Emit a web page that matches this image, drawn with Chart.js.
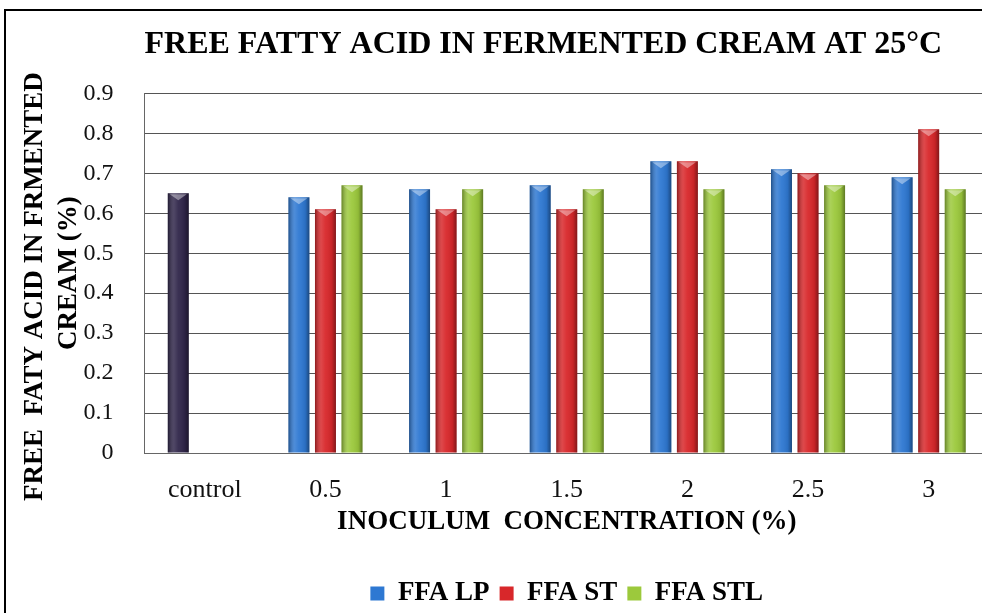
<!DOCTYPE html>
<html>
<head>
<meta charset="utf-8">
<title>Free fatty acid in fermented cream</title>
<script src="https://cdn.jsdelivr.net/npm/chart.js@4.4.1/dist/chart.umd.min.js"></script>
<style>
  html, body { margin: 0; padding: 0; background: #fff; overflow: hidden; width: 982px; height: 613px; }
  #frame {
    position: absolute; left: 4px; top: 9px;
    width: 1090px; height: 606px;
    border-left: 2px solid #000; border-top: 2px solid #000;
  }
</style>
</head>
<body>
<div id="frame"><canvas id="ffaChart"></canvas></div>
<script>
const categories = ['control', '0.5', '1', '1.5', '2', '2.5', '3'];

// control value sits in the LP slot
const ffaLp = [0.65, 0.64, 0.66, 0.67, 0.73, 0.71, 0.69];
const ffaSt = [null, 0.61, 0.61, 0.61, 0.73, 0.70, 0.81];
const ffaStl = [null, 0.67, 0.66, 0.66, 0.66, 0.67, 0.66];

const yTickLabels = ['0', '0.1', '0.2', '0.3', '0.4', '0.5', '0.6', '0.7', '0.8', '0.9'];

const seriesNames = ['FFA LP', 'FFA ST', 'FFA STL'];

let ffa = {

  colors: {
    control: '#30264a',
    lp: '#2e78d2',
    st: '#d8272a',
    stl: '#9cc93c'
  },

  // gives the bars a rounded, shaded look like the office chart
  shadePlugin: {
    id: 'shade',
    afterDatasetsDraw: function (chart) {
      const ctx = chart.ctx;
      chart.data.datasets.forEach(function (ds, i) {
        chart.getDatasetMeta(i).data.forEach(function (bar) {
          const p = bar.getProps(['x', 'y', 'base', 'width'], true);
          if (!isFinite(p.y)) return;
          const left = p.x - p.width / 2;
          const g = ctx.createLinearGradient(left, 0, left + p.width, 0);
          g.addColorStop(0, 'rgba(0,0,0,0.35)');
          g.addColorStop(0.3, 'rgba(255,255,255,0.15)');
          g.addColorStop(0.5, 'rgba(255,255,255,0.05)');
          g.addColorStop(0.8, 'rgba(0,0,0,0.08)');
          g.addColorStop(1, 'rgba(0,0,0,0.4)');
          ctx.save();
          ctx.fillStyle = g;
          ctx.fillRect(left, p.y, p.width, p.base - p.y);
          ctx.fillStyle = 'rgba(255,255,255,0.4)';
          ctx.beginPath();
          ctx.moveTo(left + 2, p.y + 1);
          ctx.lineTo(left + p.width - 2, p.y + 1);
          ctx.lineTo(p.x, p.y + 7);
          ctx.closePath();
          ctx.fill();
          ctx.restore();
        });
      });
    }
  },

  onload: function () {

    Chart.defaults.font.family = '"Liberation Serif", "Times New Roman", serif';
    Chart.defaults.color = '#111';

    const barOpts = {
      categoryPercentage: 0.66,
      barPercentage: 0.79,
      borderWidth: 0
    };

    const datasets = [
      Object.assign({
        label: seriesNames[0],
        data: ffaLp,
        backgroundColor: function (c) {
          return (c.type === 'data' && c.dataIndex === 0) ? ffa.colors.control : ffa.colors.lp;
        }
      }, barOpts),
      Object.assign({ label: seriesNames[1], data: ffaSt, backgroundColor: ffa.colors.st }, barOpts),
      Object.assign({ label: seriesNames[2], data: ffaStl, backgroundColor: ffa.colors.stl }, barOpts)
    ];

    const ctx = document.getElementById('ffaChart').getContext('2d');
    new Chart(ctx, {
      type: 'bar',
      data: { labels: categories, datasets: datasets },
      plugins: [ffa.shadePlugin],
      options: {
        responsive: true,
        maintainAspectRatio: false,
        animation: false,
        layout: { padding: { left: 0, right: 107, top: 0, bottom: 0 } },
        plugins: {
          title: {
            display: true,
            fullSize: false,
            align: 'start',
            text: 'FREE FATTY ACID IN FERMENTED CREAM AT 25°C',
            color: '#000',
            font: { size: 32, weight: 'bold' },
            padding: { top: 15, bottom: 29 }
          },
          legend: {
            position: 'bottom',
            fullSize: false,
            labels: {
              color: '#000',
              font: { size: 27, weight: 'bold' },
              boxWidth: 14,
              boxHeight: 14,
              padding: 10,
              generateLabels: function (chart) {
                const items = Chart.defaults.plugins.legend.labels.generateLabels(chart);
                items[0].fillStyle = ffa.colors.lp;
                return items;
              }
            }
          },
          tooltip: { enabled: false }
        },
        scales: {
          x: {
            afterFit: function (scale) { scale.height = 117; },
            grid: { display: false, drawTicks: false },
            border: { color: '#666', width: 1 },
            ticks: { font: { size: 26 }, color: '#111', padding: 22 },
            title: {
              display: true,
              text: 'INOCULUM  CONCENTRATION (%)',
              color: '#000',
              font: { size: 27, weight: 'bold' },
              padding: { top: 0, bottom: 32 }
            }
          },
          y: {
            min: 0,
            max: 0.9,
            afterFit: function (scale) { scale.width = 138.5; },
            ticks: {
              stepSize: 0.1,
              font: { size: 24 },
              color: '#111',
              padding: 31,
              callback: function (v, i) { return yTickLabels[i]; }
            },
            grid: { color: '#555', lineWidth: 1, drawTicks: false },
            border: { color: '#666', width: 1 },
            title: {
              display: true,
              text: ['FREE  FATY ACID IN FRMENTED    ', 'CREAM (%)'],
              color: '#000',
              font: { size: 27, weight: 'bold', lineHeight: 1.26 },
              padding: { top: 12, bottom: 0 }
            }
          }
        }
      }
    });
  }
}

ffa.onload();
</script>
</body>
</html>
